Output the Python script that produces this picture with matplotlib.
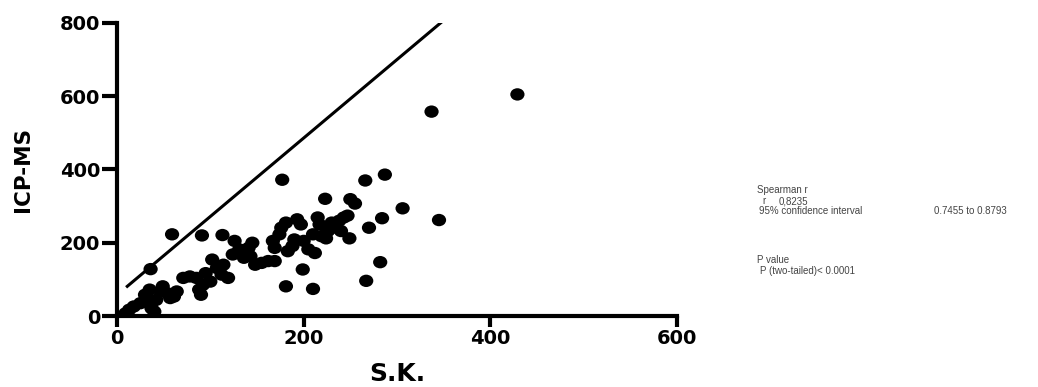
"""Spearman correlation scatter: ICP-MS vs S.K."""

import matplotlib

matplotlib.use("Agg")

import matplotlib.pyplot as plt
from matplotlib.path import Path
from matplotlib.transforms import Affine2D

plt.rcParams["font.family"] = ["DejaVu Sans"]

# S.K. (x) and ICP-MS (y) values
sk = [
    9, 13, 18, 25, 30, 35, 37, 40, 33, 42, 47, 49, 54, 57, 61, 64,
    71, 78, 85, 88, 90, 92, 95, 100, 102, 107, 112, 119, 114, 124,
    126, 131, 136, 141, 145, 143, 148, 155, 162, 169, 167, 169, 174,
    176, 181, 183, 188, 190, 193, 197, 200, 205, 210, 212, 215, 217,
    219, 224, 226, 230, 235, 240, 238, 243,
    429, 337, 345, 177, 266, 287, 306, 223, 250, 255, 247, 284, 270,
    282, 267, 181, 210, 199, 249, 59, 91, 113, 36,
]
icp = [
    7, 17, 26, 35, 58, 72, 21, 12, 39, 44, 67, 81, 62, 49, 53, 67,
    104, 108, 104, 72, 58, 85, 117, 94, 154, 131, 113, 104, 140, 168,
    205, 182, 159, 186, 200, 163, 140, 145, 150, 150, 205, 186, 223,
    241, 255, 177, 191, 209, 264, 250, 205, 182, 223, 172, 269, 250,
    218, 212, 232, 255, 241, 232, 260, 269,
    605, 558, 262, 372, 370, 386, 294, 320, 319, 307, 274, 267, 241,
    147, 96, 81, 74, 127, 212, 223, 220, 221, 128,
]

# reference line end points
line_x = [11, 348]
line_y = [81, 803]

x_ticks = [0, 200, 400, 600]
y_ticks = [0, 200, 400, 600, 800]

W, H = 1038, 387
fig = plt.figure(figsize=(W / 100, H / 100), dpi=100, facecolor="white")
ax = fig.add_axes([117 / W, 1 - 316 / H, 560 / W, 293 / H])

# the source picture is stretched sideways, so the dots are slightly wide
dot = Affine2D().scale(1.15, 1.0).transform_path(Path.unit_circle())
ax.scatter(sk, icp, s=105, marker=dot, color="black", edgecolors="none", zorder=3)
ax.plot(line_x, line_y, color="black", lw=2.2)

ax.set_xlim(0, 600)
ax.set_ylim(0, 800)
ax.set_xticks(x_ticks)
ax.set_yticks(y_ticks)
for side in ("top", "right"):
    ax.spines[side].set_visible(False)
for side in ("left", "bottom"):
    ax.spines[side].set_linewidth(3.0)
ax.tick_params(width=3.0, direction="out", labelsize=14, pad=1)
ax.tick_params(axis="y", length=11)
ax.tick_params(axis="x", length=8)
for lbl in ax.get_xticklabels() + ax.get_yticklabels():
    lbl.set_fontweight("bold")

ax.set_xlabel("S.K.", fontsize=18, fontweight="bold", va="center")
ax.xaxis.set_label_coords(0.5, -0.198)
ax.set_ylabel("ICP-MS", fontsize=15.5, fontweight="bold", va="center")
ax.yaxis.set_label_coords(-0.168, 0.5)

stat_kw = dict(fontsize=7, color="#444444", va="center", ha="left", family="Liberation Sans")
fig.text(757 / W, 1 - 190 / H, "Spearman r", **stat_kw)
fig.text(762 / W, 1 - 201 / H, "r", **stat_kw)
fig.text(779 / W, 1 - 201 / H, "0,8235", **stat_kw)
fig.text(759 / W, 1 - 211 / H, "95% confidence interval", **stat_kw)
fig.text(934 / W, 1 - 211 / H, "0.7455 to 0.8793", **stat_kw)
fig.text(757 / W, 1 - 260 / H, "P value", **stat_kw)
fig.text(760 / W, 1 - 271 / H, "P (two-tailed)< 0.0001", **stat_kw)

fig.savefig("out.png", dpi=100, facecolor="white")
